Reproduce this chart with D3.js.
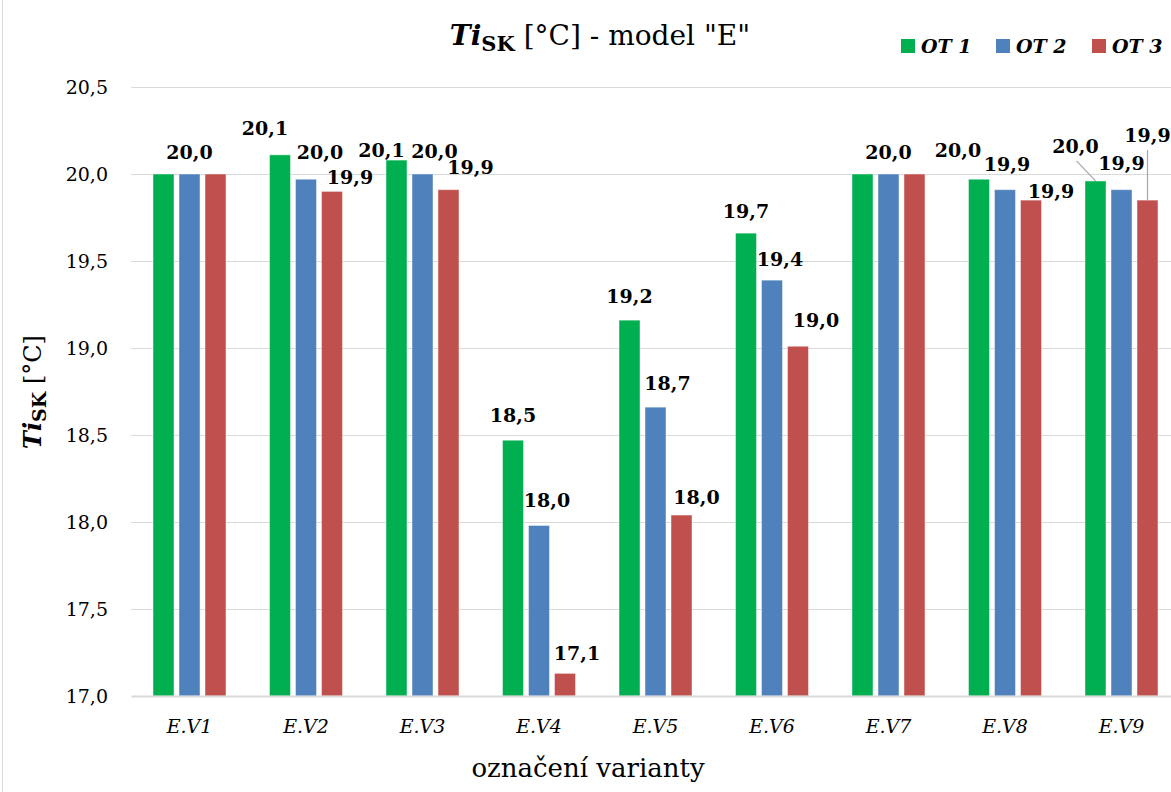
<!DOCTYPE html>
<html>
<head>
<meta charset="utf-8">
<script src="https://cdn.jsdelivr.net/npm/d3@7"></script>
<style>
  html, body { margin: 0; padding: 0; background: #fff; }
  svg { display: block; }
  text { font-family: "DejaVu Serif", "Liberation Serif", serif; fill: #000; }
</style>
</head>
<body>
<svg id="chart" width="1171" height="792"></svg>
<script>
// Variants (categories) and the three series OT 1 – OT 3, Ti_SK in °C
const categories = ["E.V1", "E.V2", "E.V3", "E.V4", "E.V5", "E.V6", "E.V7", "E.V8", "E.V9"];
const seriesNames = ["OT 1", "OT 2", "OT 3"];
const ot1 = [20.00, 20.11, 20.08, 18.47, 19.16, 19.66, 20.00, 19.97, 19.96];
const ot2 = [20.00, 19.97, 20.00, 17.98, 18.66, 19.39, 20.00, 19.91, 19.91];
const ot3 = [20.00, 19.90, 19.91, 17.13, 18.04, 19.01, 20.00, 19.85, 19.85];
const yTicks = [17.0, 17.5, 18.0, 18.5, 19.0, 19.5, 20.0, 20.5];

const seriesValues = [ot1, ot2, ot3];
const colors = ["#00B050", "#4F81BD", "#C0504D"];

// Manually placed data labels: [dx, dy] from the top centre of each bar, null = hidden
const labelNudge = [
  [null, [0, -22], null],
  [[-15, -27], [14, -27], [18, -14]],
  [[-15, -10], [12, -23], [22, -23]],
  [[0, -25], [8, -25], [12, -20]],
  [[0, -24], [12, -24], [15, -18]],
  [[0, -22], [8, -21], [18, -26]],
  [null, [0, -22], null],
  [[-21, -29], [2, -26], [20, -9]],
  [[-20, -35], [0, -27], [0, -65]]
];
// Labels pulled away from their bar get a leader line: [category, series]
const leaders = [[8, 0], [8, 2]];

const svg = d3.select("#chart");
const W = 1171, H = 792;

const plot = { left: 131.25, right: 1179.75, top: 87, bottom: 696 };

const x0 = d3.scaleBand().domain(categories).range([plot.left, plot.right]).padding(0);
const groupW = 73;
const x1 = d3.scaleBand().domain(seriesNames).range([0, groupW]).paddingInner(5 / 26).paddingOuter(0);
const y = d3.scaleLinear().domain([17, 20.5]).range([plot.bottom, plot.top]);

const fmt = v => d3.format(".1f")(v).replace(".", ",");

// chart area border (left edge)
svg.append("line")
  .attr("x1", 2.5).attr("x2", 2.5).attr("y1", 0).attr("y2", H)
  .attr("stroke", "#d9d9d9").attr("stroke-width", 1);

// gridlines
svg.append("g").selectAll("line").data(yTicks.slice(1)).join("line")
  .attr("x1", plot.left).attr("x2", plot.right)
  .attr("y1", d => Math.round(y(d)) + 0.5).attr("y2", d => Math.round(y(d)) + 0.5)
  .attr("stroke", "#d9d9d9").attr("stroke-width", 1);

// y axis tick labels
const yAxis = d3.axisLeft(y).tickValues(yTicks).tickFormat(fmt).tickSize(0).tickPadding(0);
const gy = svg.append("g").attr("transform", "translate(108,0)").call(yAxis);
gy.select(".domain").remove();
gy.selectAll("text")
  .attr("font-family", "DejaVu Serif").attr("font-size", 19).attr("fill", "#000")
  .attr("dy", "0.36em").attr("x", 0);

// bars
const groups = svg.append("g").selectAll("g").data(categories).join("g")
  .attr("transform", d => `translate(${x0(d) + (x0.bandwidth() - groupW) / 2},0)`);

groups.selectAll("rect")
  .data((c, i) => seriesNames.map((s, j) => ({ s, j, v: seriesValues[j][i] })))
  .join("rect")
  .attr("x", d => x1(d.s))
  .attr("width", x1.bandwidth())
  .attr("y", d => y(d.v))
  .attr("height", d => y(17) - y(d.v))
  .attr("fill", d => colors[d.j])
  .attr("stroke", "#ffffff").attr("stroke-opacity", 0.45).attr("stroke-width", 1);

// category axis baseline
svg.append("line")
  .attr("x1", plot.left).attr("x2", plot.right)
  .attr("y1", plot.bottom + 0.5).attr("y2", plot.bottom + 0.5)
  .attr("stroke", "#d9d9d9").attr("stroke-width", 2);

// category labels
const xAxis = d3.axisBottom(x0).tickSize(0).tickPadding(0);
const gx = svg.append("g").attr("transform", `translate(0,${plot.bottom})`).call(xAxis);
gx.select(".domain").remove();
gx.selectAll("text")
  .attr("font-family", "DejaVu Serif").attr("font-size", 19).attr("font-style", "italic")
  .attr("fill", "#000").attr("y", 37).attr("dy", 0);

// data labels and leader lines
const barCx = (i, j) => x0(categories[i]) + (x0.bandwidth() - groupW) / 2 + x1(seriesNames[j]) + x1.bandwidth() / 2;
const labelData = [];
categories.forEach((c, i) => seriesNames.forEach((s, j) => {
  const n = labelNudge[i][j];
  if (!n) return;
  const v = seriesValues[j][i];
  labelData.push({ i, j, v, x: barCx(i, j) + n[0], y: y(v) + n[1] });
}));

const leaderG = svg.append("g");
leaders.forEach(([i, j]) => {
  const d = labelData.find(l => l.i === i && l.j === j);
  const v = seriesValues[j][i];
  const bx = barCx(i, j), by = y(v);
  const sx = d.j === 2 ? bx : d.x + 1;
  leaderG.append("line")
    .attr("x1", sx).attr("y1", d.y + 15)
    .attr("x2", bx).attr("y2", by)
    .attr("stroke", "#a6a6a6").attr("stroke-width", 1.2);
});

svg.append("g").selectAll("text").data(labelData).join("text")
  .attr("x", d => d.x).attr("y", d => d.y).attr("dy", "0.36em")
  .attr("text-anchor", "middle")
  .attr("font-size", 19).attr("font-weight", "bold")
  .text(d => fmt(d.v));

// title
const title = svg.append("text").attr("x", 600).attr("y", 45)
  .attr("text-anchor", "middle").attr("font-size", 28);
title.append("tspan").attr("font-weight", "bold").attr("font-style", "italic").text("Ti");
title.append("tspan").attr("font-weight", "bold").attr("font-size", 21).attr("dy", 6).text("SK");
title.append("tspan").attr("dy", -6).text(" [°C] - model \"E\"");

// y axis title
const yTitle = svg.append("text").attr("transform", "translate(41,392) rotate(-90)")
  .attr("text-anchor", "middle").attr("font-size", 24);
yTitle.append("tspan").attr("font-weight", "bold").attr("font-style", "italic").text("Ti");
yTitle.append("tspan").attr("font-weight", "bold").attr("font-size", 19).attr("dy", 5).text("SK");
yTitle.append("tspan").attr("dy", -5).text(" [°C]");

// x axis title
svg.append("text").attr("x", 588).attr("y", 777)
  .attr("text-anchor", "middle").attr("font-size", 26).text("označení varianty");

// legend
const legendX = [901, 996, 1092];
const lg = svg.append("g").selectAll("g").data(seriesNames).join("g")
  .attr("transform", (d, i) => `translate(${legendX[i]},39)`);
lg.append("rect").attr("width", 14).attr("height", 14).attr("fill", (d, i) => colors[i]);
lg.append("text").attr("x", 20).attr("y", 13.5)
  .attr("font-size", 19).attr("font-weight", "bold").attr("font-style", "italic")
  .text(d => d);
</script>
</body>
</html>
